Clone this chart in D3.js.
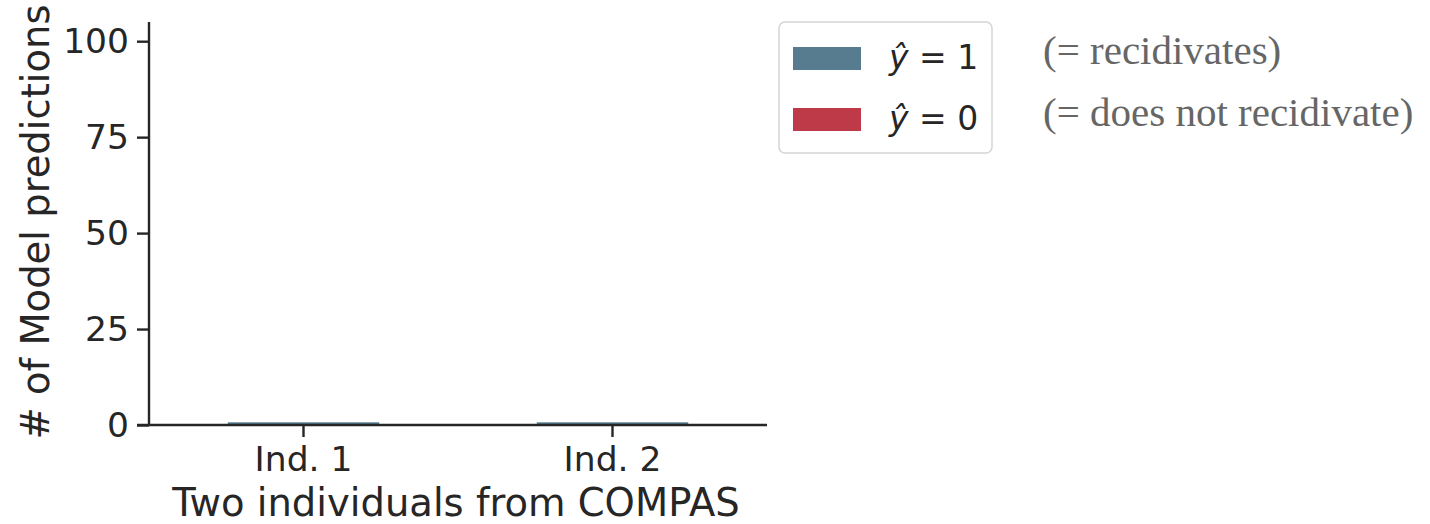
<!DOCTYPE html>
<html>
<head>
<meta charset="utf-8">
<script src="https://cdn.jsdelivr.net/npm/d3@7"></script>
<style>
  body { margin: 0; background: #fff; }
  text { font-family: "DejaVu Sans", sans-serif; fill: #262626; }
</style>
</head>
<body>
<div id="canvas"></div>
<script>
"use strict";

/* -------------------- Data -------------------- */

let individuals = ["Ind. 1", "Ind. 2"];
let predOne = [0.7, 0.7];   // y-hat = 1 counts
let predZero = [0, 0];      // y-hat = 0 counts
let yTicks = [0, 25, 50, 75, 100];
let legendLabels = ["1", "0"];
let legendNotes = ["(= recidivates)", "(= does not recidivate)"];
let colors = ["#577c90", "#bf3a48"];

/* -------------------- Setup -------------------- */

let svgWidth = 1430;
let svgHeight = 524;
let axisColor = "#262626";

let svg = d3.select("#canvas")
    .append("svg")
    .attr("width", svgWidth)
    .attr("height", svgHeight);

let xScale = d3.scaleBand()
    .domain(individuals)
    .range([149, 767])
    .paddingInner(0.51)
    .paddingOuter(0.255);

let yScale = d3.scaleLinear()
    .domain([0, 105])
    .range([425, 22]);

/* -------------------- Bars (stacked) -------------------- */

let rows = individuals.map(function (d, i) {
    return { name: d, one: predOne[i], zero: predZero[i] };
});

svg.append("g").selectAll("rect.zero")
    .data(rows)
    .join("rect")
    .attr("class", "zero")
    .attr("x", d => xScale(d.name))
    .attr("width", xScale.bandwidth())
    .attr("y", d => yScale(d.zero))
    .attr("height", d => yScale(0) - yScale(d.zero))
    .attr("fill", colors[1]);

svg.append("g").selectAll("rect.one")
    .data(rows)
    .join("rect")
    .attr("class", "one")
    .attr("x", d => xScale(d.name))
    .attr("width", xScale.bandwidth())
    .attr("y", d => yScale(d.zero + d.one))
    .attr("height", d => yScale(d.zero) - yScale(d.zero + d.one))
    .attr("fill", colors[0]);

/* -------------------- Axes -------------------- */

let yAxis = svg.append("g")
    .attr("transform", "translate(149,0)")
    .call(d3.axisLeft(yScale).tickValues(yTicks).tickSize(12).tickPadding(8));

let xAxis = svg.append("g")
    .attr("transform", "translate(0,425)")
    .call(d3.axisBottom(xScale).tickSize(12).tickPadding(10));

[yAxis, xAxis].forEach(function (ax) {
    ax.select(".domain").attr("stroke", axisColor).attr("stroke-width", 2.4);
    ax.selectAll(".tick line").attr("stroke", axisColor).attr("stroke-width", 2.4);
    ax.selectAll(".tick text")
        .attr("fill", axisColor)
        .style("font-size", "34.5px")
        .style("font-family", "DejaVu Sans, sans-serif");
});

/* axis lines: x starts at the y tick edge, y stops at the top limit */
xAxis.select(".domain").attr("d", "M137,0H767");
yAxis.select(".domain").attr("d", "M0,22V425");

/* -------------------- Axis Labels -------------------- */

svg.append("text")
    .attr("x", 456)
    .attr("y", 516)
    .attr("text-anchor", "middle")
    .style("font-size", "38.5px")
    .text("Two individuals from COMPAS");

svg.append("text")
    .attr("transform", "translate(49,222) rotate(-90)")
    .attr("text-anchor", "middle")
    .style("font-size", "38.5px")
    .text("# of Model predictions");

/* -------------------- Legend -------------------- */

svg.append("rect")
    .attr("x", 779)
    .attr("y", 22)
    .attr("width", 213)
    .attr("height", 131)
    .attr("rx", 6)
    .attr("fill", "#fff")
    .attr("stroke", "#d5d5d5")
    .attr("stroke-width", 1.5);

legendLabels.forEach(function (lab, i) {
    let cy = 58 + i * 61;
    svg.append("rect")
        .attr("x", 793)
        .attr("y", cy - 11)
        .attr("width", 68)
        .attr("height", 23)
        .attr("fill", colors[i]);

    let t = svg.append("text")
        .attr("x", 889)
        .attr("y", cy + 11)
        .style("font-size", "33px");
    t.append("tspan").style("font-style", "italic").text("\u0177");
    t.append("tspan").text(" = " + lab);

    svg.append("text")
        .attr("x", 1043)
        .attr("y", cy + 6 + i * 1)
        .style("font-family", "Liberation Serif, serif")
        .style("font-size", "41px")
        .style("fill", "#666")
        .text(legendNotes[i]);
});
</script>
</body>
</html>
